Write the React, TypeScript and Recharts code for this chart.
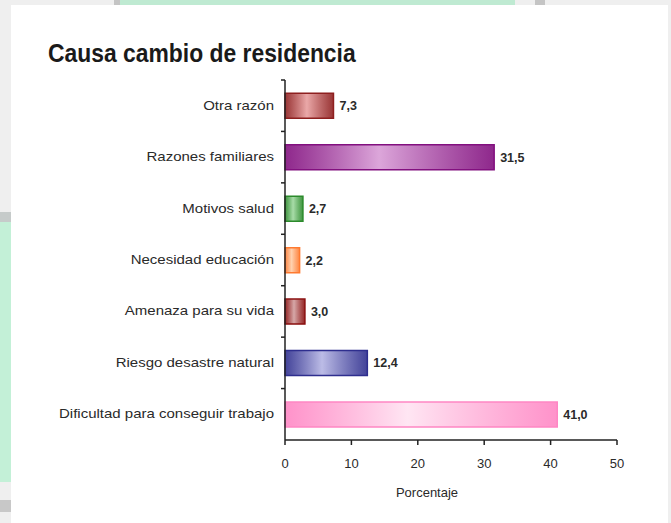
import React from "react";
import { BarChart, Bar, XAxis, YAxis, Cell, LabelList } from "recharts";

const categories = [
  "Otra razón",
  "Razones familiares",
  "Motivos salud",
  "Necesidad educación",
  "Amenaza para su vida",
  "Riesgo desastre natural",
  "Dificultad para conseguir trabajo",
];
const values = [7.3, 31.5, 2.7, 2.2, 3.0, 12.4, 41.0];
const xTicks = [0, 10, 20, 30, 40, 50];

// [borde, claro] por barra
const barColors = [
  ["#8e1f1f", "#eaa8a8"],
  ["#82107f", "#dca6da"],
  ["#2b8a2b", "#a8dca8"],
  ["#ff7a30", "#ffd2b0"],
  ["#8a0f0f", "#d6a8a8"],
  ["#2e2e8e", "#bcbce6"],
  ["#ff86c4", "#ffe6f3"],
];

const data = categories.map((name, i) => ({ name, value: values[i] }));

const fmt = (v: number) => v.toFixed(1).replace(".", ",");

const CategoryTick = (props: any) => {
  const { x, y, payload, height, visibleTicksCount } = props;
  // marca entre categorías (límite de la banda)
  let off = payload?.offset;
  if (!off && height && visibleTicksCount) off = height / visibleTicksCount / 2;
  return (
    <g>
      <line x1={x - 4} x2={x} y1={y - off} y2={y - off} stroke="#222" strokeWidth={1.5} />
      <text
        transform={`translate(${x - 11},${y}) scale(1.2,1)`}
        x={0}
        y={0}
        dy={4}
        textAnchor="end"
        fill="#2a2a2a"
        fontSize={12.5}
        fontFamily="Liberation Sans, Arial, sans-serif"
      >
        {payload.value}
      </text>
    </g>
  );
};

export default function App() {
  return (
    <div
      style={{
        position: "absolute",
        left: 0,
        top: 0,
        width: 671,
        height: 523,
        background: "#efefef",
        overflow: "hidden",
      }}
    >
      {/* marco de la captura */}
      <div style={{ position: "absolute", left: 120, top: 0, width: 395, height: 5, background: "#bfead2" }} />
      <div style={{ position: "absolute", left: 114, top: 0, width: 6, height: 5, background: "#c4c4c4" }} />
      <div style={{ position: "absolute", left: 535, top: 0, width: 10, height: 5, background: "#c4c4c4" }} />
      <div style={{ position: "absolute", left: 0, top: 212, width: 11, height: 10, background: "#c6cbca" }} />
      <div style={{ position: "absolute", left: 0, top: 222, width: 11, height: 260, background: "#c3f0d7" }} />
      <div style={{ position: "absolute", left: 0, top: 500, width: 11, height: 12, background: "#c8c8c8" }} />
      <div style={{ position: "absolute", left: 11, top: 5, width: 657, height: 518, background: "#ffffff" }} />

      <div
        style={{
          position: "absolute",
          left: 48,
          top: 39,
          fontFamily: "Liberation Sans, Arial, sans-serif",
          fontSize: 25,
          fontWeight: "bold",
          color: "#1a1a1a",
          whiteSpace: "nowrap",
          transform: "scaleX(0.915)",
          transformOrigin: "left top",
        }}
      >
        Causa cambio de residencia
      </div>

      <div style={{ position: "absolute", left: 0, top: 0 }}>
        <BarChart
          width={671}
          height={523}
          data={data}
          layout="vertical"
          margin={{ top: 80, right: 54, bottom: 48, left: 0 }}
          barCategoryGap="26%"
        >
          <defs>
            {barColors.map(([dark, light], i) => (
              <linearGradient key={i} id={`grad${i}`} x1="0" y1="0" x2="1" y2="0">
                <stop offset="0%" stopColor={dark} stopOpacity={0.9} />
                <stop offset="45%" stopColor={light} />
                <stop offset="100%" stopColor={dark} stopOpacity={0.9} />
              </linearGradient>
            ))}
          </defs>
          <XAxis
            type="number"
            domain={[0, 50]}
            ticks={xTicks}
            height={35}
            axisLine={{ stroke: "#222", strokeWidth: 1.5 }}
            tickLine={{ stroke: "#222", strokeWidth: 1.5 }}
            tickSize={5}
            tickMargin={14}
            tick={{ fill: "#2a2a2a", fontSize: 13, fontFamily: "Liberation Sans, Arial, sans-serif" }}
            label={{
              value: "Porcentaje",
              position: "bottom",
              offset: 13,
              dx: -24,
              fill: "#2a2a2a",
              fontSize: 13,
              fontFamily: "Liberation Sans, Arial, sans-serif",
            }}
          />
          <YAxis
            type="category"
            dataKey="name"
            width={285}
            axisLine={{ stroke: "#222", strokeWidth: 1.5 }}
            tickLine={false}
            tickSize={0}
            tickMargin={0}
            interval={0}
            tick={<CategoryTick />}
          />
          <Bar dataKey="value" isAnimationActive={false} strokeWidth={1.5}>
            {data.map((_, i) => (
              <Cell key={i} fill={`url(#grad${i})`} stroke={barColors[i][0]} />
            ))}
            <LabelList
              dataKey="value"
              position="right"
              offset={6}
              formatter={(v: any) => fmt(Number(v))}
              fill="#2a2a2a"
              fontSize={12.5}
              fontWeight="bold"
              fontFamily="Liberation Sans, Arial, sans-serif"
            />
          </Bar>
        </BarChart>
      </div>
    </div>
  );
}
